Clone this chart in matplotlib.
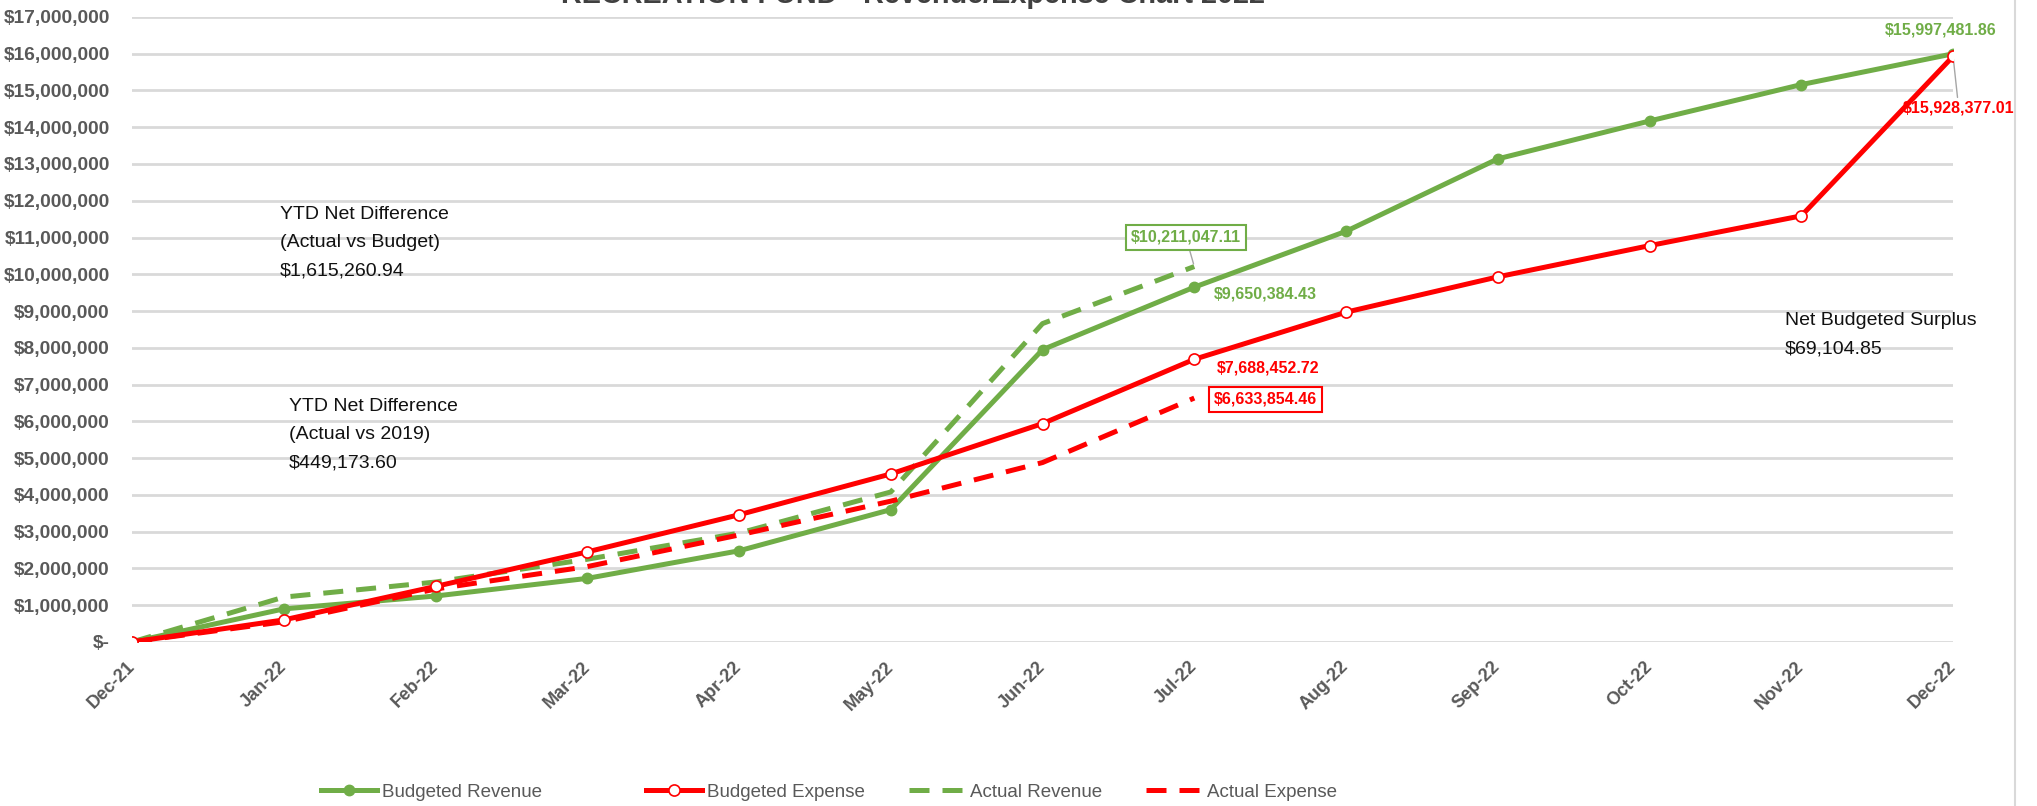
import matplotlib
matplotlib.use("Agg")
import matplotlib.pyplot as plt
from matplotlib.ticker import FuncFormatter

plt.rcParams['font.family'] = ['Liberation Sans', 'DejaVu Sans']

months = ["Dec-21", "Jan-22", "Feb-22", "Mar-22", "Apr-22", "May-22", "Jun-22",
          "Jul-22", "Aug-22", "Sep-22", "Oct-22", "Nov-22", "Dec-22"]
budget_rev = [0, 900000, 1250000, 1730000, 2480000, 3600000, 7950000,
              9650384.43, 11170000, 13140000, 14170000, 15160000, 15997481.86]
budget_exp = [0, 600000, 1510000, 2450000, 3460000, 4570000, 5940000,
              7688452.72, 8970000, 9930000, 10780000, 11590000, 15928377.01]
actual_rev = [0, 1220000, 1630000, 2250000, 2960000, 4080000, 8660000, 10211047.11]
actual_exp = [0, 550000, 1440000, 2050000, 2910000, 3830000, 4880000, 6633854.46]

GREEN = "#70AD47"
RED = "#FF0000"
GREY = "#595959"

fig = plt.figure(figsize=(20.37, 8.06), dpi=100)
ax = fig.add_axes([0.0648, 0.2035, 0.894, 0.7755])

x = list(range(len(months)))
l1, = ax.plot(x, budget_rev, color=GREEN, lw=3.6, marker="o", ms=7.5,
              mfc=GREEN, mec=GREEN, label="Budgeted Revenue", zorder=3)
l2, = ax.plot(x, budget_exp, color=RED, lw=3.6, marker="o", ms=8,
              mfc="white", mec=RED, mew=1.2, label="Budgeted Expense", zorder=4)
l3, = ax.plot(x[:len(actual_rev)], actual_rev, color=GREEN, lw=3.6, ls=(0, (4, 2.6)),
              label="Actual Revenue", zorder=3)
l4, = ax.plot(x[:len(actual_exp)], actual_exp, color=RED, lw=3.6, ls=(0, (4, 2.6)),
              label="Actual Expense", zorder=3)

ax.set_xlim(0, 12)
ax.set_ylim(0, 17000000)
ax.set_yticks(range(0, 17000001, 1000000))
ax.yaxis.set_major_formatter(FuncFormatter(lambda v, p: "$-" if v == 0 else f"${v:,.0f}"))
ax.set_xticks(x)
ax.set_xticklabels(months, rotation=45, ha="right", va="center",
                   rotation_mode="anchor", fontweight="bold", color=GREY, fontsize=13)
ax.tick_params(axis="x", length=0, pad=16)
ax.tick_params(axis="y", length=0, pad=16, labelsize=13.8, labelcolor=GREY)
for t in ax.get_yticklabels():
    t.set_fontweight("bold")
ax.grid(axis="y", color="#d9d9d9", lw=2)
ax.set_axisbelow(True)
for s in ax.spines.values():
    s.set_visible(False)

# data labels
lab = dict(fontsize=11.5, fontweight="bold", textcoords="offset points", va="center")
lead = dict(arrowstyle="-", color="#a6a6a6", lw=1, shrinkA=0, shrinkB=2)
ax.annotate(f"${budget_rev[12]:,.2f}", (12, budget_rev[12]), xytext=(-9, 17),
            color=GREEN, ha="center", **lab)
ax.annotate(f"${budget_exp[12]:,.2f}", (12, budget_exp[12]), xytext=(4, -37),
            color=RED, ha="center", arrowprops=lead, **lab)
ax.annotate(f"${actual_rev[7]:,.2f}", (7, actual_rev[7]), xytext=(-6, 21),
            color=GREEN, ha="center", arrowprops=lead,
            bbox=dict(boxstyle="square,pad=0.3", fc="white", ec=GREEN, lw=1.5), **lab)
ax.annotate(f"${budget_rev[7]:,.2f}", (7, budget_rev[7]), xytext=(14, -5),
            color=GREEN, ha="left", **lab)
ax.annotate(f"${budget_exp[7]:,.2f}", (7, budget_exp[7]), xytext=(16, -6.5),
            color=RED, ha="left", **lab)
ax.annotate(f"${actual_exp[7]:,.2f}", (7, actual_exp[7]), xytext=(14, -1),
            color=RED, ha="left",
            bbox=dict(boxstyle="square,pad=0.3", fc="white", ec=RED, lw=1.5), **lab)

# notes
note = dict(fontsize=14, va="top", ha="left", linespacing=1.85, color="#111111")
fig.text(280 / 2037, 1 - 206 / 806, "YTD Net Difference\n(Actual vs Budget)\n$1,615,260.94", **note)
fig.text(289 / 2037, 1 - 398 / 806, "YTD Net Difference\n(Actual vs 2019)\n$449,173.60", **note)
fig.text(1785 / 2037, 1 - 312 / 806, "Net Budgeted Surplus\n$69,104.85", **note)

# title, cut off at the top as in the original
fig.text(0.448, 1 - 3 / 806, "RECREATION FUND - Revenue/Expense Chart 2022",
         fontsize=20.8, fontweight="bold", color="#404040", ha="center", va="baseline")

# legend entries placed one by one (Excel spaces them unevenly)
leg_x = [321, 646, 909, 1146]
for h, px in zip([l1, l2, l3, l4], leg_x):
    lg = fig.legend(handles=[h], labels=[h.get_label()], loc="center left",
                    bbox_to_anchor=(px / 2037, 1 - 792 / 806), frameon=False,
                    fontsize=13.5, handlelength=3.0, handletextpad=0.25,
                    borderpad=0, borderaxespad=0, labelcolor=GREY)

# thin border at the right like the chart area edge
fig.add_artist(plt.Line2D([2015 / 2037, 2015 / 2037], [0, 1], color="#d9d9d9", lw=1.5))

fig.savefig("out.png", dpi=100)
